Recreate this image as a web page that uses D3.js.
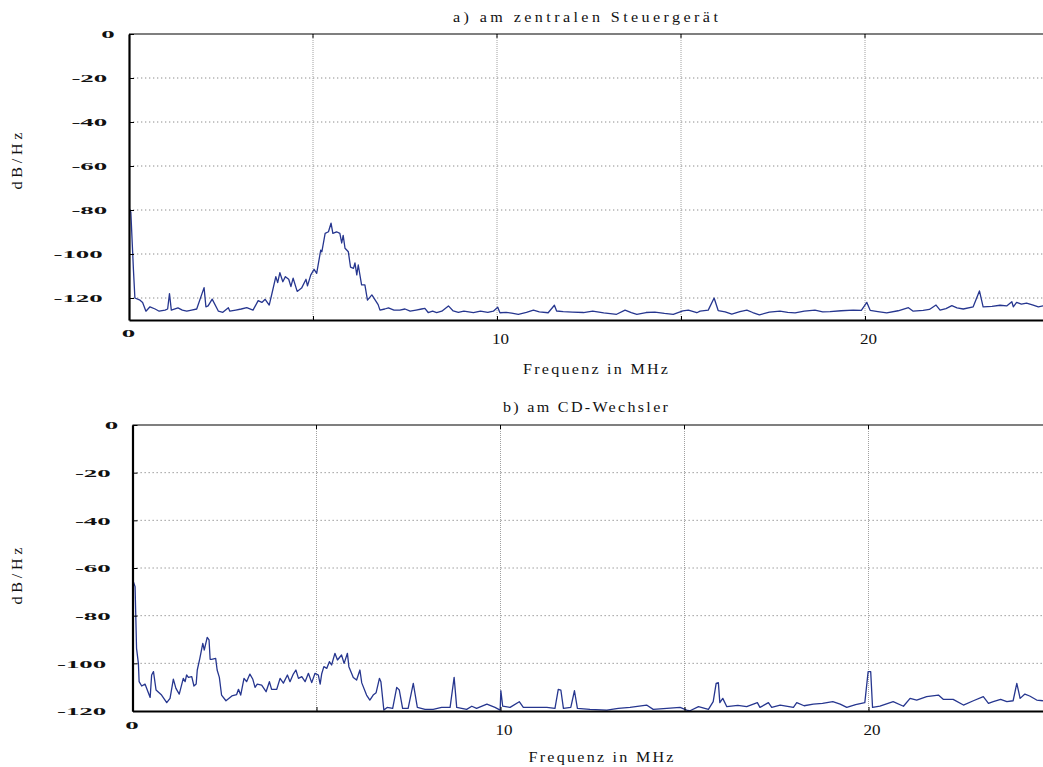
<!DOCTYPE html>
<html>
<head>
<meta charset="utf-8">
<script src="https://cdn.jsdelivr.net/npm/d3@7"></script>
<style>
  body { margin: 0; background: #fff; }
  svg { display: block; }
</style>
</head>
<body>
<svg id="chart" width="1043" height="767"></svg>
<script>
// Spectrum (a): measured at the central control unit — frequency in MHz, level in dB/Hz
const freqA = [0.00,0.05,0.12,0.16,0.30,0.37,0.46,0.57,0.71,0.82,0.98,1.05,1.10,1.15,1.33,1.45,1.57,1.70,1.84,2.04,2.09,2.15,2.26,2.43,2.55,2.70,2.74,2.90,3.05,3.20,3.37,3.51,3.61,3.70,3.81,3.88,3.99,4.04,4.10,4.18,4.25,4.34,4.40,4.46,4.57,4.69,4.81,4.85,4.94,5.03,5.10,5.21,5.24,5.33,5.42,5.49,5.54,5.64,5.73,5.78,5.82,5.87,5.96,6.02,6.10,6.14,6.19,6.23,6.32,6.41,6.48,6.60,6.77,6.82,6.95,7.05,7.20,7.36,7.50,7.64,7.80,7.95,8.04,8.13,8.25,8.36,8.50,8.68,8.81,8.95,9.10,9.36,9.55,9.75,9.90,10.02,10.08,10.25,10.40,10.58,10.80,10.99,11.15,11.39,11.56,11.62,11.80,12.05,12.35,12.60,12.90,13.25,13.48,13.65,13.80,14.05,14.29,14.55,14.79,15.05,15.20,15.43,15.52,15.74,15.90,16.01,16.20,16.38,16.60,16.79,16.95,17.13,17.40,17.69,17.90,18.10,18.35,18.64,18.85,19.05,19.35,19.68,19.90,20.05,20.14,20.35,20.59,20.90,21.18,21.31,21.58,21.75,21.93,22.04,22.20,22.36,22.50,22.67,22.94,23.11,23.21,23.45,23.67,23.85,23.99,24.03,24.12,24.25,24.39,24.57,24.71,24.84];
const levelA = [-79,-81,-107,-120,-121,-122,-126,-124,-125,-126,-125.5,-125,-118,-125.5,-124.5,-125.5,-126,-125.5,-125,-115.3,-124,-123.6,-120.5,-126,-126.5,-124.4,-126,-125.5,-125,-124.4,-125.5,-121.2,-122,-120.6,-123.2,-118.3,-110.3,-113,-108.5,-112.6,-110.3,-111.5,-114.8,-111,-117,-115.5,-111.5,-114.5,-109.5,-107,-108.8,-98.2,-99,-90.6,-89.9,-86,-90.6,-89.9,-90.6,-95,-91.5,-97.4,-99,-106,-106.5,-104,-109.5,-105,-114,-114,-121,-118.6,-123,-125.5,-125,-124.5,-125.5,-125.5,-125,-126,-125.5,-125,-124.7,-126.6,-126,-126.6,-126,-123.6,-125.9,-126.5,-126,-126.6,-126,-126.5,-126,-124.2,-126.7,-126.5,-126.9,-127.4,-126.5,-125.5,-126.3,-126.7,-123.3,-125.9,-126.2,-126.4,-126.6,-126,-126.8,-127.4,-125.5,-126.6,-127.4,-126.6,-126.4,-127,-127.4,-125.9,-125.5,-126.7,-126,-125.5,-120,-125.7,-126.3,-127.3,-126.2,-125.5,-126.6,-127.7,-126.4,-126,-126.5,-126.8,-126,-125.5,-126.3,-126.2,-125.8,-125.5,-125.6,-122,-125.6,-126.2,-126.8,-125.8,-124.4,-126,-125.6,-125.2,-123.2,-125.5,-124.8,-123.5,-124.5,-125,-124,-116.8,-124,-123.8,-123.3,-123.6,-121.7,-124,-122,-122.8,-122.3,-123.2,-124,-123.6];

// Spectrum (b): measured at the CD changer
const freqB = [0.00,0.07,0.11,0.16,0.18,0.25,0.34,0.48,0.52,0.57,0.64,0.79,0.93,1.02,1.11,1.18,1.27,1.38,1.43,1.47,1.52,1.61,1.67,1.73,1.76,1.83,1.91,1.95,2.03,2.08,2.11,2.15,2.26,2.30,2.36,2.42,2.54,2.70,2.83,2.88,2.94,3.03,3.10,3.19,3.27,3.33,3.39,3.51,3.63,3.72,3.78,3.92,4.01,4.10,4.21,4.28,4.37,4.44,4.51,4.60,4.69,4.78,4.87,4.96,5.05,5.10,5.14,5.20,5.28,5.35,5.41,5.50,5.57,5.68,5.75,5.84,5.88,6.00,6.09,6.18,6.23,6.36,6.45,6.54,6.62,6.71,6.75,6.83,6.92,7.07,7.18,7.25,7.34,7.49,7.63,7.74,7.95,8.17,8.40,8.63,8.74,8.81,9.08,9.22,9.35,9.63,9.85,9.99,10.01,10.06,10.26,10.51,10.62,10.89,11.26,11.48,11.57,11.64,11.71,11.91,12.01,12.09,12.43,12.89,13.20,13.52,13.97,14.15,14.52,14.88,15.06,15.15,15.38,15.65,15.78,15.86,15.92,15.96,16.04,16.15,16.45,16.69,16.98,17.05,17.28,17.37,17.60,17.96,18.05,18.25,18.50,18.75,19.03,19.23,19.41,19.65,19.90,19.99,20.06,20.11,20.31,20.67,20.95,21.13,21.31,21.58,21.90,22.03,22.30,22.58,22.85,23.12,23.26,23.39,23.59,23.76,23.93,24.03,24.12,24.25,24.38,24.57,24.74];
const levelB = [-64.7,-67.8,-93.7,-100,-107.7,-109.5,-108.7,-114.3,-104.9,-103.5,-111.2,-113.3,-116.5,-114.7,-106.6,-110.5,-112.9,-106.3,-107.7,-104.9,-105.9,-105.6,-109.5,-108.7,-102.8,-97.9,-91.6,-94.4,-89.1,-90.2,-98.3,-98.3,-97.9,-102.8,-105.9,-113.3,-115.7,-113.7,-113.1,-110.9,-113.3,-106.3,-107.7,-104.5,-106.7,-110.1,-108.7,-109.1,-111.9,-107.7,-110.9,-110.9,-106.3,-108.3,-104.9,-107.7,-104.5,-102.8,-106.3,-105.6,-107.7,-104.2,-108.1,-104.2,-104.9,-108.7,-104.5,-101.4,-102.1,-99.3,-100.7,-95.8,-98.6,-96.5,-100,-95.8,-101.4,-105.9,-107,-102.8,-108.2,-113.3,-115.4,-113.3,-112.3,-106.3,-107.7,-119.6,-118.5,-118.9,-110.1,-111.2,-118.9,-118.9,-108.4,-118.5,-119.3,-119.3,-118.5,-118.5,-105.9,-118.5,-119.3,-118,-118.9,-117.1,-118.5,-119.6,-111.5,-118,-118.5,-116.1,-118.5,-118.5,-118.5,-118.9,-110.9,-111.2,-118.9,-118.5,-111.5,-118.9,-119.3,-119.6,-118.9,-118.5,-117.5,-119.3,-118.9,-118.5,-119.6,-119.9,-118.2,-119.3,-116.1,-108.4,-108.1,-116.5,-114.7,-118.2,-117.6,-118.2,-116.5,-118.5,-116.5,-118.5,-117.5,-118.5,-116.5,-117.8,-117.1,-116.8,-116.1,-117.1,-118.5,-117.3,-116.5,-103.5,-103.5,-118.5,-118,-116.1,-118,-114.7,-115.4,-114,-113.3,-115.1,-115.1,-117.5,-115.7,-114,-116.8,-116.1,-115.1,-116.1,-115.7,-108.4,-114.7,-112.9,-113.7,-115.4,-115.7];

// Axis ticks
const yTicksA = [0, -20, -40, -60, -80, -100, -120];
const yTicksB = [0, -20, -40, -60, -80, -100, -120];
const xTicks = [0, 5, 10, 15, 20, 25];
const xTickLabels = { 0: "0", 10: "10", 20: "20" };

const titleA = "a) am zentralen Steuergerät";
const titleB = "b) am CD-Wechsler";
const xLabel = "Frequenz in MHz";
const yLabel = "dB/Hz";

const W = 1043;
const PX_PER_MHZ = 36.8;
const svg = d3.select("#chart");
const serif = "'Liberation Serif', 'DejaVu Serif', serif";

// Wide, loosely spaced serif label: glyphs stretched by `stretch`, extra tracking fills the rest
function wideLabel(parent, str, cx, cy, width, rotate) {
  const g = parent.append("g")
    .attr("transform", `translate(${cx},${cy})` + (rotate ? ` rotate(${rotate})` : ""));
  const stretch = 1.15;
  const t = g.append("text")
    .attr("font-family", serif).attr("font-size", 14).attr("fill", "#111")
    .attr("text-anchor", "start")
    .text(str);
  const w0 = t.node().getComputedTextLength();
  const n = str.length;
  const ls = Math.max(0, (width / stretch - w0) / (n - 1));
  t.attr("letter-spacing", ls);
  const w1 = w0 + ls * (n - 1);
  t.attr("x", -w1 / 2).attr("transform", `scale(${stretch},1)`);
  return g;
}

const panels = [
  { id: "a", title: titleA, freq: freqA, level: levelA, yTicks: yTicksA, yMin: -130,
    left: 129, top: 34, bottom: 320, titleX: 585.5, titleY: 22, titleW: 265,
    xlabX: 595.5, xlabY: 374, ylabY: 161, zeroY: 13.5, numY: 24 },
  { id: "b", title: titleB, freq: freqB, level: levelB, yTicks: yTicksB, yMin: -120,
    left: 132.5, top: 425, bottom: 711, titleX: 585.5, titleY: 412, titleW: 165,
    xlabX: 601, xlabY: 762, ylabY: 576, zeroY: 14, numY: 24 }
];

panels.forEach(p => {
  const x = d3.scaleLinear().domain([0, 25]).range([p.left, p.left + 25 * PX_PER_MHZ]);
  const y = d3.scaleLinear().domain([p.yMin, 0]).range([p.bottom, p.top]);
  const g = svg.append("g");

  g.append("clipPath").attr("id", "clip-" + p.id)
    .append("rect").attr("x", p.left).attr("y", p.top - 3)
    .attr("width", W - p.left).attr("height", p.bottom - p.top + 6);

  // dotted grid
  const grid = g.append("g");
  grid.selectAll("line.h").data(p.yTicks.filter(t => t !== 0 && t !== p.yMin)).join("line")
    .attr("x1", p.left).attr("x2", W)
    .attr("y1", d => y(d)).attr("y2", d => y(d))
    .attr("stroke", "#8c8c8c").attr("stroke-width", 1).attr("stroke-dasharray", "1.3,2.7");
  grid.selectAll("line.v").data(xTicks.filter(t => t > 0 && x(t) < W)).join("line")
    .attr("x1", d => x(d)).attr("x2", d => x(d))
    .attr("y1", p.top).attr("y2", p.bottom)
    .attr("stroke", "#a0a0a0").attr("stroke-width", 1).attr("stroke-dasharray", "1,1");

  // spectrum trace
  const line = d3.line().x((d, i) => x(p.freq[i])).y((d, i) => y(p.level[i]));
  g.append("path")
    .attr("clip-path", "url(#clip-" + p.id + ")")
    .attr("d", line(p.level))
    .attr("fill", "none").attr("stroke", "#26368f").attr("stroke-width", 1.3)
    .attr("stroke-linejoin", "round");

  // frame top edge
  g.append("line").attr("x1", p.left).attr("x2", W).attr("y1", p.top).attr("y2", p.top)
    .attr("stroke", "#000").attr("stroke-width", 1.2);
  // top-edge ticks
  g.selectAll("line.tt").data(xTicks.filter(t => t > 0 && x(t) < W)).join("line")
    .attr("x1", d => x(d)).attr("x2", d => x(d)).attr("y1", p.top).attr("y2", p.top + 4)
    .attr("stroke", "#000").attr("stroke-width", 1);

  // y axis
  const yAxis = g.append("g").attr("transform", `translate(${p.left},0)`)
    .call(d3.axisLeft(y).tickValues(p.yTicks).tickSizeInner(-5).tickSizeOuter(0)
      .tickFormat(d => String(d)));
  yAxis.select(".domain").attr("stroke-width", 2.2);
  yAxis.selectAll(".tick line").attr("stroke-width", 1);
  yAxis.selectAll(".tick text").each(function () {
    const t = d3.select(this)
      .attr("font-family", serif).attr("font-weight", "bold").attr("font-size", 11)
      .attr("fill", "#111");
    const w = this.getComputedTextLength() * 2.45;
    t.attr("textLength", w).attr("lengthAdjust", "spacingAndGlyphs")
      .attr("text-anchor", "end").attr("x", -9.7 - w / 3).attr("dy", "0.35em");
  });

  // x axis
  const xAxis = g.append("g").attr("transform", `translate(0,${p.bottom})`)
    .call(d3.axisBottom(x).tickValues(xTicks).tickSizeInner(-4).tickSizeOuter(0)
      .tickFormat(d => xTickLabels[d] || ""));
  xAxis.select(".domain").attr("stroke-width", 2.2);
  xAxis.selectAll(".tick line").attr("stroke-width", 1);
  xAxis.selectAll(".tick text").each(function (d) {
    const t = d3.select(this).attr("font-family", serif).attr("fill", "#111");
    if (d === 0) {
      t.attr("font-weight", "bold").attr("font-size", 11).attr("dy", "0.35em").attr("y", p.zeroY);
      const w = this.getComputedTextLength() * 2.45;
      t.attr("textLength", w).attr("lengthAdjust", "spacingAndGlyphs").attr("x", -1);
    } else {
      t.attr("font-size", 14).attr("dy", 0).attr("y", p.numY).attr("x", 3)
        .attr("textLength", 17).attr("lengthAdjust", "spacingAndGlyphs");
    }
  });

  // titles and axis labels
  wideLabel(g, p.title, p.titleX, p.titleY, p.titleW);
  wideLabel(g, xLabel, p.xlabX, p.xlabY, 145);
  wideLabel(g, yLabel, 22, p.ylabY, 57, -90);
});
</script>
</body>
</html>
